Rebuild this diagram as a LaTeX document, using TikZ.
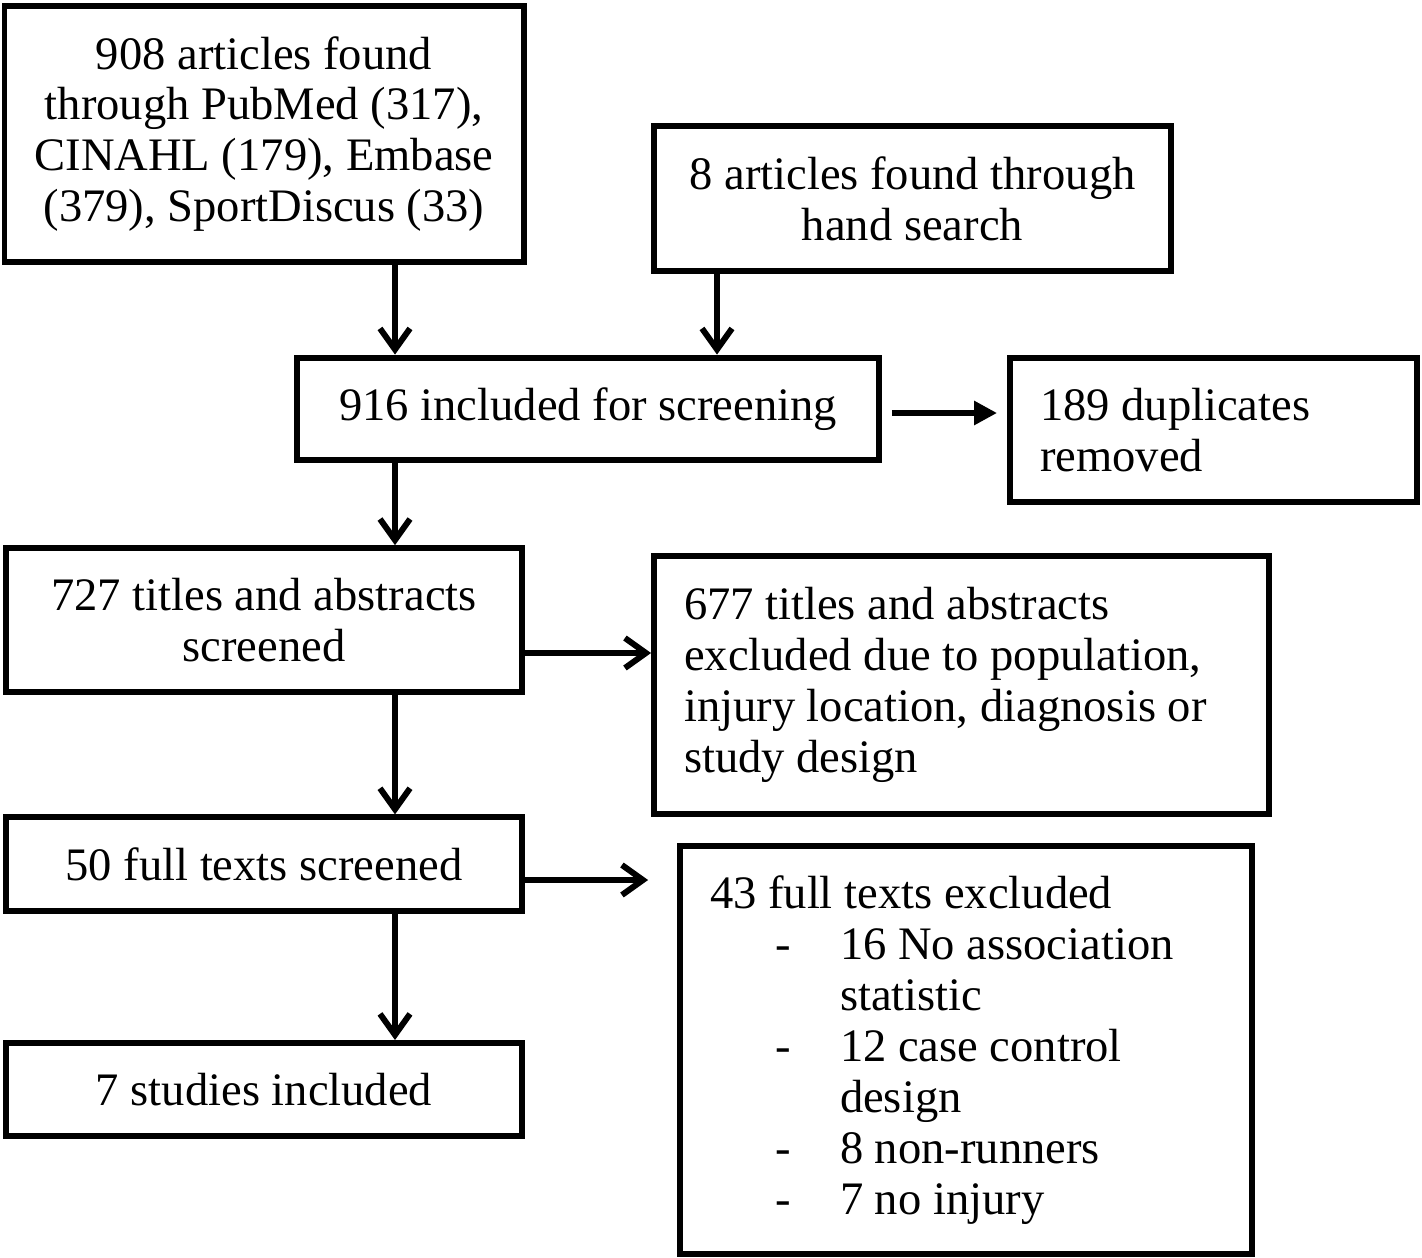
\documentclass[tikz,border=0pt]{standalone}
\usepackage{fontspec}
\setmainfont{Liberation Serif}
\usetikzlibrary{arrows.meta}

% indented list entries for the exclusion box
\newcommand{\exitem}[1]{\hspace*{1.3cm}\makebox[1.3cm][l]{-}#1}
\newcommand{\exmore}[1]{\hspace*{2.6cm}#1}

\begin{document}
\begin{tikzpicture}[x=0.02cm,y=-0.02cm,
    box/.style={draw, line width=3.4pt, inner sep=0.6cm,
                font=\fontsize{26.5}{29}\selectfont},
    cbox/.style={box, align=flush center},
    lbox/.style={box, align=flush left},
    arr/.style={line width=3.4pt, -{Straight Barb[length=0.42cm,width=0.6cm,line width=3.4pt]}},
    arrfill/.style={line width=3.4pt, -{Triangle[length=0.46cm,width=0.46cm]}}
  ]
\useasboundingbox (0,0) rectangle (1422,1257);

% search sources
\node[cbox, minimum width=10.32cm, minimum height=5.12cm] (found) at (264,134)
  {908 articles found\\through PubMed (317),\\CINAHL (179), Embase\\(379), SportDiscus (33)};
\node[cbox, minimum width=10.34cm, minimum height=2.54cm] (hand) at (912.5,198.5)
  {8 articles found through\\hand search};

% screening
\node[cbox, minimum width=11.64cm, minimum height=1.92cm] (screen) at (588,409)
  {916 included for screening};
\node[lbox, text width=6.94cm, minimum height=2.6cm] (dupl) at (1213.5,430)
  {189 duplicates\\removed};

\node[cbox, minimum width=10.32cm, minimum height=2.56cm] (titles) at (264,620)
  {727 titles and abstracts\\screened};
\node[lbox, text width=11.1cm, minimum height=5.16cm] (exta) at (961.5,685)
  {677 titles and abstracts\\excluded due to population,\\injury location, diagnosis or\\study design};

\node[cbox, minimum width=10.32cm, minimum height=1.84cm] (full) at (264,864)
  {50 full texts screened};
\node[lbox, text width=10.24cm, minimum height=8.04cm] (extf) at (966,1050)
  {43 full texts excluded\\
   \exitem{16 No association}\\
   \exmore{statistic}\\
   \exitem{12 case control}\\
   \exmore{design}\\
   \exitem{8 non-runners}\\
   \exitem{7 no injury}};

\node[cbox, minimum width=10.32cm, minimum height=1.86cm] (incl) at (264,1089.5)
  {7 studies included};

% arrow columns
\coordinate (colL) at (395,0);
\coordinate (colR) at (717,0);

\draw[arr] (found.south -| colL) -- (screen.north -| colL);
\draw[arr] (hand.south -| colR) -- (screen.north -| colR);
\draw[arrfill, shorten <=0.2cm, shorten >=0.2cm] ([shift={(0,4)}]screen.east) -- ([shift={(0,4)}]screen.east -| dupl.west);
\draw[arr] (screen.south -| colL) -- (titles.north -| colL);
\draw[arr] ([shift={(0,33)}]titles.east) -- ([shift={(0,33)}]titles.east -| exta.west);
\draw[arr] (titles.south -| colL) -- (full.north -| colL);
\draw[arr, shorten >=0.58cm] ([shift={(0,16)}]full.east) -- ([shift={(0,16)}]full.east -| extf.west);
\draw[arr] (full.south -| colL) -- (incl.north -| colL);
\end{tikzpicture}
\end{document}
